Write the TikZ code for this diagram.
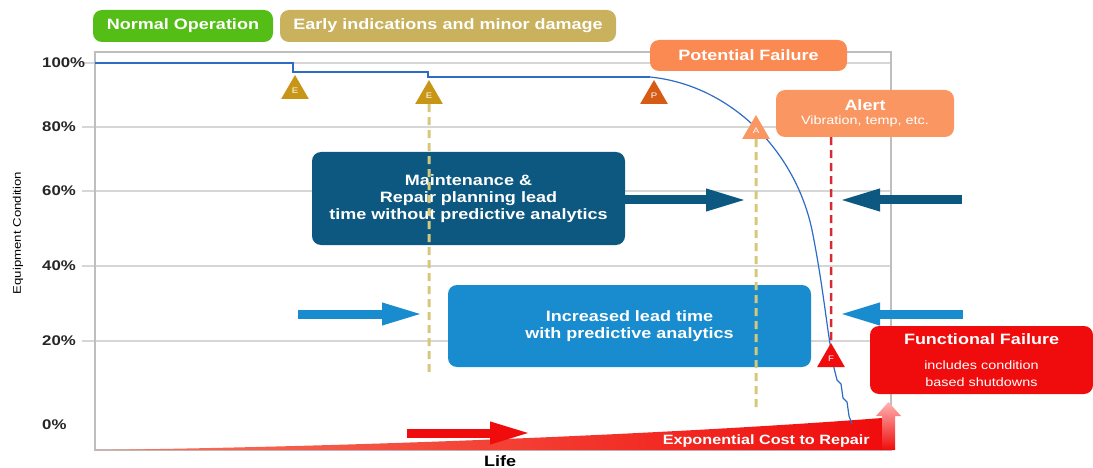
\documentclass[tikz,border=0pt]{standalone}
\usepackage{fontspec}
\setmainfont[FakeStretch=1.2]{Liberation Sans}
\usetikzlibrary{shapes.geometric, arrows.meta}

\definecolor{okgreen}{RGB}{84,190,22}
\definecolor{earlyolive}{RGB}{201,177,94}
\definecolor{potorange}{RGB}{250,138,82}
\definecolor{alertorange}{RGB}{250,150,98}
\definecolor{darkteal}{RGB}{12,88,128}
\definecolor{lightblue}{RGB}{24,140,206}
\definecolor{failred}{RGB}{240,12,12}
\definecolor{curveblue}{RGB}{45,108,198}
\definecolor{egold}{RGB}{200,150,22}
\definecolor{pdark}{RGB}{214,92,22}
\definecolor{dashkhaki}{RGB}{214,200,122}
\definecolor{alertdash}{RGB}{214,42,52}
\definecolor{gridgray}{RGB}{214,214,214}
\definecolor{framegray}{RGB}{190,190,190}
\definecolor{costlow}{RGB}{246,120,96}

\newcommand\fsz[2]{\fontsize{#1}{#2}\selectfont}
\newcommand\subtext{\mdseries\fsz{12}{14}}

\begin{document}
\begin{tikzpicture}[x=1pt, y=-1pt,
    phase/.style={rounded corners=9pt, fill=#1, text=white, inner sep=0pt, align=center, font=\bfseries\fsz{15}{17}},
    flag/.style={regular polygon, regular polygon sides=3, fill=#1, minimum size=32pt, inner sep=0pt, text=white, font=\fsz{8}{8}},
    gridline/.style={draw=gridgray, line width=1.5pt},
    plotframe/.style={draw=framegray, line width=2pt},
    axislabel/.style={anchor=west, inner sep=0pt, font=\bfseries\fsz{14}{14}, text=black!85},
    lead/.style={line width=3pt, dash pattern=on 8pt off 5pt},
    fat/.style={line width=9pt, draw=#1, -{Triangle[length=42pt, width=20pt]}}]
    \useasboundingbox (0,0) rectangle (1093,468);

    \foreach \y/\pct in {63/100, 127/80, 191/60, 266/40, 341/20}{
        \draw[gridline] (82,\y) -- (891,\y);
        \node[axislabel] (p\pct) at (42,\y) {\pct\%};
    }
    \node[axislabel] (p0) at (42,425) {0\%};
    \draw[plotframe] (95,52) rectangle (891,450);

    \node[rotate=90, font=\fsz{11}{13}] (ylabel) at (18,233) {Equipment Condition};
    \node[font=\bfseries\fsz{15}{15}] (life) at (500,461) {Life};

    \shade[left color=costlow, right color=failred] (95,450) .. controls (400,446) and (700,432) .. (882,418) -- (882,450) -- cycle;
    \node[anchor=east, inner sep=0pt, text=white, font=\bfseries\fsz{13.5}{14}] (cost) at (870,441) {Exponential Cost to Repair};
    \shade[top color=red!30, bottom color=failred] (882,450) -- (882,416) -- (876,416) -- (888.5,402) -- (901,416) -- (895,416) -- (895,450) -- cycle;

    \draw[curveblue, line width=2pt] (95,63) -- (293,63) -- (293,72) -- (428,72) -- (428,77) -- (650,77);
    \draw[curveblue, line width=1.2pt] (650,77) .. controls (730,85) and (795,150) .. (812,230)
        .. controls (822,280) and (826,320) .. (831,350) -- (834,368) -- (837,380) -- (841,384)
        -- (843,398) -- (847,402) -- (849,416) -- (852,424);

    \node[phase=okgreen, minimum width=180pt, minimum height=32pt] (normal) at (183,26) {Normal Operation};
    \node[phase=earlyolive, minimum width=336pt, minimum height=32pt] (early) at (448,26) {Early indications and minor damage};
    \node[phase=potorange, minimum width=197pt, minimum height=31pt] (potential) at (748.5,55.5) {Potential Failure};
    \node[phase=alertorange, minimum width=178pt, minimum height=47pt] (alert) at (865,113.5)
        {Alert\\[-3pt]\subtext Vibration, temp, etc.};
    \node[phase=darkteal, minimum width=313pt, minimum height=93pt] (maint) at (468.5,198.5)
        {Maintenance \&\\Repair planning lead\\time without predictive analytics};
    \node[phase=lightblue, minimum width=363pt, minimum height=82pt] (incr) at (629.5,326)
        {Increased lead time\\with predictive analytics};
    \node[phase=failred, minimum width=223pt, minimum height=68pt] (func) at (981.5,360)
        {Functional Failure\\[8pt]\subtext includes condition\\\subtext based shutdowns};

    \node[flag=egold] (e1) at (295,91) {E};
    \node[flag=egold] (e2) at (429,96) {E};
    \node[flag=pdark] (p) at (654,96) {P};
    \node[flag=alertorange] (a) at (756,131) {A};
    \node[flag=failred] (f) at (831,359) {F};

    \coordinate (e2end) at (429,372);
    \coordinate (aend) at (756,410);
    \draw[lead, draw=dashkhaki] (e2.south) -- (e2end);
    \draw[lead, draw=dashkhaki] (a.south) -- (aend);
    \draw[lead, draw=alertdash, line width=2.5pt] (f |- alert.south) -- (f.north);

    \coordinate (mtip) at (748,200);
    \coordinate (rtail) at (962,200);
    \coordinate (rtip) at (838,200);
    \coordinate (ltail) at (298,314);
    \coordinate (ltip) at (424,314);
    \coordinate (ktail) at (963,314);
    \coordinate (ktip) at (838,314);
    \coordinate (ctail) at (407,433);
    \coordinate (ctip) at (532,433);
    \draw[fat=darkteal] (maint.east |- mtip) -- (mtip);
    \draw[fat=darkteal] (rtail) -- (rtip);
    \draw[fat=lightblue] (ltail) -- (ltip);
    \draw[fat=lightblue] (ktail) -- (ktip);
    \draw[fat=failred] (ctail) -- (ctip);
\end{tikzpicture}
\end{document}
